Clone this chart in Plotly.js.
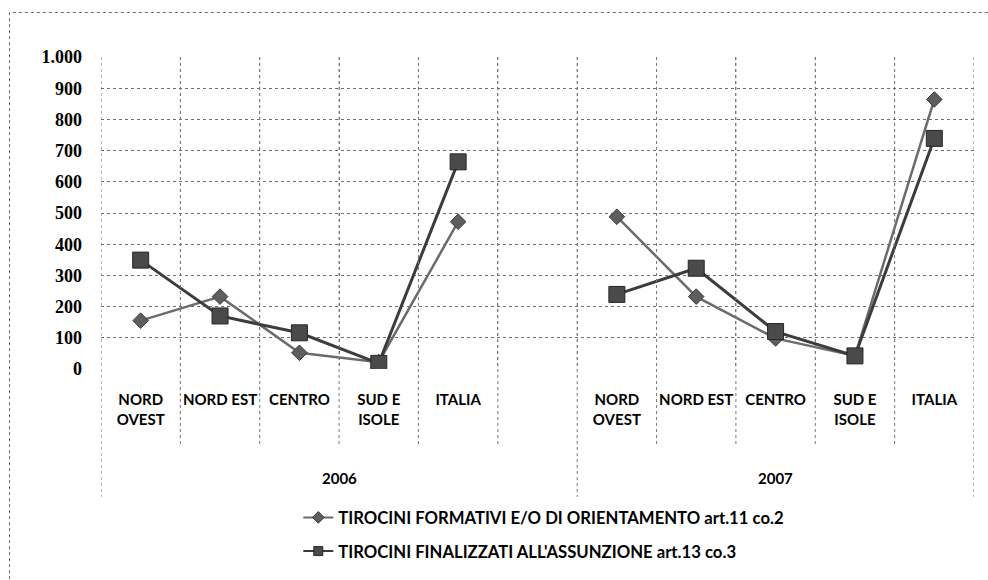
<!DOCTYPE html>
<html>
<head>
<meta charset="utf-8">
<script src="https://cdn.plot.ly/plotly-3.0.1.min.js"></script>
<style>
  html, body { margin: 0; padding: 0; background: #ffffff; }
  #chart { width: 988px; height: 580px; }
</style>
</head>
<body>
<div id="chart"></div>
<script>
// Regional internships (tirocini), 2006 and 2007
const years = ['2006', '2007'];
const regions = ['NORD OVEST', 'NORD EST', 'CENTRO', 'SUD E ISOLE', 'ITALIA'];
const regionLabels = ['NORD<br>OVEST', 'NORD EST', 'CENTRO', 'SUD E<br>ISOLE', 'ITALIA'];

const formativi2006 = [155, 232, 52, 22, 472];
const formativi2007 = [488, 232, 98, 42, 864];
const finalizzati2006 = [349, 170, 116, 18, 664];
const finalizzati2007 = [239, 323, 120, 42, 739];

const seriesNames = [
  'TIROCINI FORMATIVI E/O DI ORIENTAMENTO art.11 co.2',
  "TIROCINI FINALIZZATI ALL'ASSUNZIONE art.13 co.3"
];

// Category keys: five regions per year, with an empty slot closing the 2006 block
const spacerKey = years[0] + ' -';
const keys = [];
const tickText = [];
regions.forEach((r, i) => { keys.push(years[0] + ' ' + r); tickText.push(regionLabels[i]); });
keys.push(spacerKey); tickText.push('');
regions.forEach((r, i) => { keys.push(years[1] + ' ' + r); tickText.push(regionLabels[i]); });

const formativi = formativi2006.concat([null], formativi2007);
const finalizzati = finalizzati2006.concat([null], finalizzati2007);

const labelFont = { family: 'Lato, "Open Sans", sans-serif', size: 15, color: '#000', weight: 'bold' };

const styleA = {
  line: { color: '#6b6b6b', width: 2.5 },
  marker: { symbol: 'diamond', color: '#5e5e5e', line: { color: '#3a3a3a', width: 1 } }
};
const styleB = {
  line: { color: '#3c3c3c', width: 3 },
  marker: { symbol: 'square', color: '#4a4a4a', line: { color: '#262626', width: 1 } }
};

const traces = [
  {
    type: 'scatter', mode: 'lines+markers', name: seriesNames[0], showlegend: false,
    x: keys, y: formativi, connectgaps: false,
    line: styleA.line, marker: Object.assign({ size: 12 }, styleA.marker)
  },
  {
    type: 'scatter', mode: 'lines+markers', name: seriesNames[1], showlegend: false,
    x: keys, y: finalizzati, connectgaps: false,
    line: styleB.line, marker: Object.assign({ size: 16 }, styleB.marker)
  },
  // legend keys with smaller symbols
  {
    type: 'scatter', mode: 'lines+markers', name: seriesNames[0], legendgroup: 'a',
    x: [null], y: [null], hoverinfo: 'skip',
    line: { color: '#6b6b6b', width: 2 }, marker: Object.assign({ size: 9 }, styleA.marker)
  },
  {
    type: 'scatter', mode: 'lines+markers', name: seriesNames[1], legendgroup: 'b',
    x: [null], y: [null], hoverinfo: 'skip',
    line: { color: '#3c3c3c', width: 2 }, marker: Object.assign({ size: 9 }, styleB.marker)
  }
];

// Category boundaries: tall dividers around each year block, short ones between regions
const shapes = [];
const n = keys.length;
for (let i = 0; i <= n; i++) {
  const b = i - 0.5;
  const tall = (i === 0 || i === n || keys[i - 1] === spacerKey);
  shapes.push({
    type: 'line', xref: 'x', yref: 'paper',
    x0: b, x1: b, y0: 1, y1: tall ? -0.41 : -0.245,
    line: { color: '#7a7a7a', width: 1, dash: 'dot' }
  });
}
// outer chart frame
shapes.push({
  type: 'rect', xref: 'paper', yref: 'paper',
  x0: -0.1048, x1: 1.05, y0: -0.8, y1: 1.1426,
  line: { color: '#6a6a6a', width: 1, dash: 'dot' }
});

// year labels centred under their blocks
const spacerIndex = keys.indexOf(spacerKey);
const annotations = [
  { text: years[0], x: (-0.5 + spacerIndex + 0.5) / 2, xref: 'x', y: -0.35, yref: 'paper',
    showarrow: false, font: labelFont, yanchor: 'middle' },
  { text: years[1], x: (spacerIndex + 0.5 + n - 0.5) / 2, xref: 'x', y: -0.35, yref: 'paper',
    showarrow: false, font: labelFont, yanchor: 'middle' }
];

const layout = {
  width: 988, height: 580,
  paper_bgcolor: '#ffffff', plot_bgcolor: '#ffffff',
  margin: { l: 101, r: 14, t: 57, b: 211, autoexpand: false },
  separators: ',.',
  showlegend: true,
  legend: {
    x: 0.226, xanchor: 'left', y: -0.42, yanchor: 'top',
    font: { family: 'Lato, "Open Sans", sans-serif', size: 16.7, color: '#000', weight: 'bold' },
    tracegroupgap: 9, bgcolor: 'rgba(0,0,0,0)'
  },
  xaxis: {
    type: 'category', categoryorder: 'array', categoryarray: keys,
    range: [-0.5, n - 0.5],
    tickmode: 'array', tickvals: keys, ticktext: tickText,
    tickson: 'boundaries', ticks: '', tickangle: 0,
    showgrid: true, gridcolor: '#7a7a7a', griddash: 'dot', gridwidth: 1,
    showline: false, zeroline: false,
    tickfont: labelFont, ticklabelstandoff: 20,
    fixedrange: true
  },
  yaxis: {
    range: [0, 1000], dtick: 100, tick0: 0, tickformat: ',d',
    showgrid: true, gridcolor: '#6e6e6e', griddash: 'dot', gridwidth: 1,
    zeroline: false, showline: false, ticks: '',
    tickfont: { family: '"Liberation Serif", "DejaVu Serif", serif', size: 18, color: '#000', weight: 'bold' },
    ticklabelstandoff: 18,
    fixedrange: true
  },
  shapes: shapes,
  annotations: annotations
};

Plotly.newPlot('chart', traces, layout, { displayModeBar: false, staticPlot: true });
</script>
</body>
</html>
